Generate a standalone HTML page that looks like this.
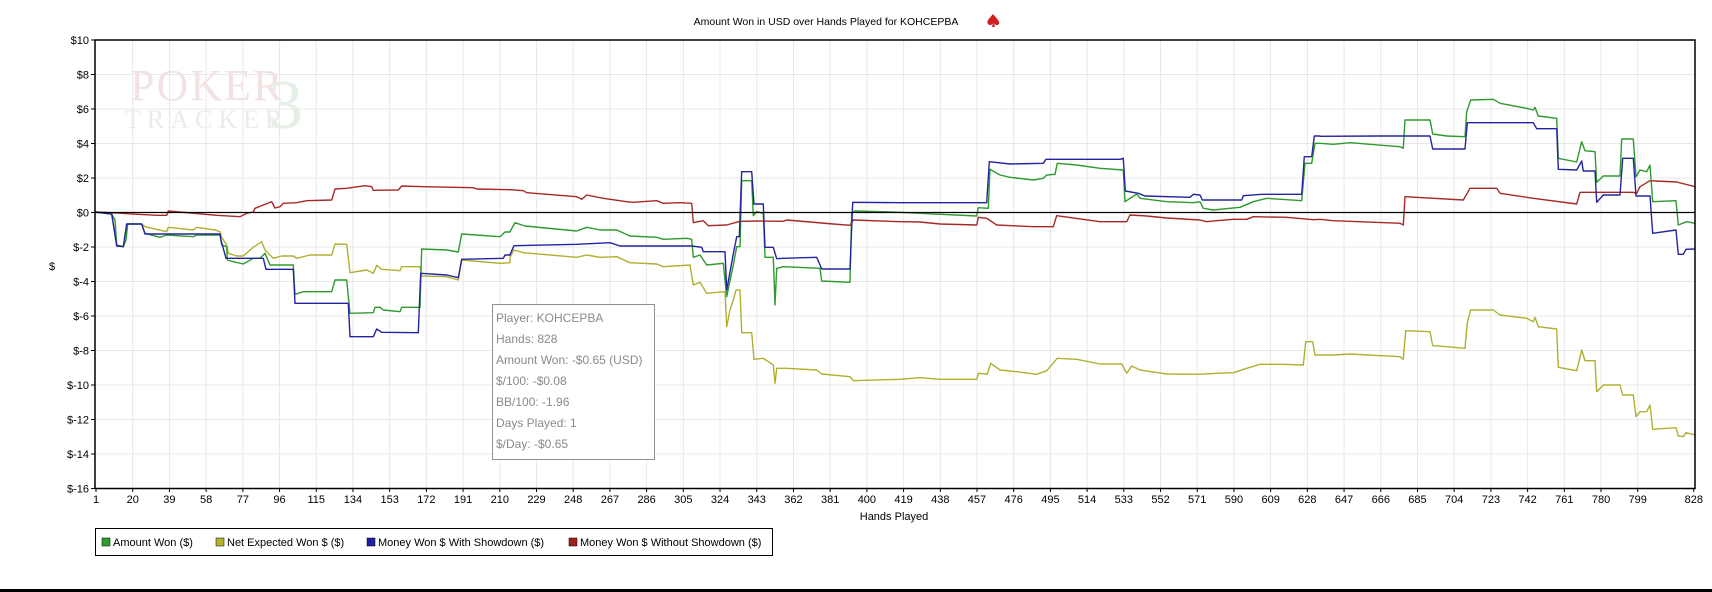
<!DOCTYPE html>
<html><head><meta charset="utf-8"><style>
html,body{margin:0;padding:0;background:#fff;}
svg{display:block;font-family:"Liberation Sans",sans-serif;}
</style></head><body>
<svg id="s" width="1712" height="592" viewBox="0 0 1712 592" xmlns="http://www.w3.org/2000/svg">
<rect width="1712" height="592" fill="#fff"/>
<g id="grid"></g>
<text x="130" y="100" font-family="Liberation Serif,serif" font-size="44" fill="#f2e2e2" letter-spacing="2">POKER</text>
<text x="125" y="128" font-family="Liberation Serif,serif" font-size="26" fill="#ebebeb" letter-spacing="6">TRACKER</text>
<text x="268" y="128" font-family="Liberation Serif,serif" font-size="70" fill="#e6efe6">3</text>
<g id="series" fill="none" stroke-width="1.4" stroke-linejoin="round"></g>
<line x1="95" y1="212.5" x2="1695" y2="212.5" stroke="#000" stroke-width="1.3"/>
<rect x="95" y="40" width="1600" height="448.5" fill="none" stroke="#000" stroke-width="1.5"/>
<g id="ticks" font-size="11" fill="#000"></g>
<text x="826" y="25" font-size="10.5" text-anchor="middle">Amount Won in USD over Hands Played for KOHCEPBA</text>
<path d="M993 14 C989 19 986 21 988 24 C990 26 992 25 993 23 L992 27 L995 27 L994 23 C995 25 997 26 999 24 C1000 21 997 19 993 14Z" fill="#d02020"/>
<text x="52" y="270" font-size="11" text-anchor="middle">$</text>
<text x="894" y="520" font-size="11" text-anchor="middle">Hands Played</text>
<rect x="492.5" y="304.5" width="162" height="155" fill="#fff" stroke="#909090"/>
<g font-size="12" fill="#8a8a8a">
<text x="496" y="322">Player: KOHCEPBA</text>
<text x="496" y="343">Hands: 828</text>
<text x="496" y="364">Amount Won: -$0.65 (USD)</text>
<text x="496" y="385">$/100: -$0.08</text>
<text x="496" y="406">BB/100: -1.96</text>
<text x="496" y="427">Days Played: 1</text>
<text x="496" y="448">$/Day: -$0.65</text>
</g>
<rect x="95.5" y="528.5" width="677" height="27" fill="#fff" stroke="#000"/>
<g font-size="11">
<rect x="102" y="538" width="8" height="8" fill="#2e9e2e" stroke="#000" stroke-width=".5"/><text x="113" y="546">Amount Won ($)</text>
<rect x="216" y="538" width="8" height="8" fill="#b5b52a" stroke="#000" stroke-width=".5"/><text x="227" y="546">Net Expected Won $ ($)</text>
<rect x="367" y="538" width="8" height="8" fill="#2020a0" stroke="#000" stroke-width=".5"/><text x="378" y="546">Money Won $ With Showdown ($)</text>
<rect x="569" y="538" width="8" height="8" fill="#a02020" stroke="#000" stroke-width=".5"/><text x="580" y="546">Money Won $ Without Showdown ($)</text>
</g>
<rect x="0" y="589" width="1712" height="3" fill="#000"/>
</svg>
<script>
var NS="http://www.w3.org/2000/svg";
function el(t,a,p,txt){var e=document.createElementNS(NS,t);for(var k in a)e.setAttribute(k,a[k]);if(txt!==undefined)e.textContent=txt;document.getElementById(p).appendChild(e);return e;}
for(var v=10;v>=-16;v-=2){var y=212.5-v*17.25;
 if(v!==10&&v!==-16) el("line",{x1:95,x2:1695,y1:y,y2:y,stroke:"#e8e8e8"},"grid");
 el("line",{x1:91,x2:95,y1:y,y2:y,stroke:"#000"},"ticks");
 el("text",{x:89,y:y+4,"text-anchor":"end"},"ticks",(v<0?"$-"+(-v):"$"+v));}
var hs=[];for(var h=1;h<=799;h+=19)hs.push(h);hs.push(828);
hs.forEach(function(h){var x=96+(h-1)*1.932;
 if(h!==1&&h!==828) el("line",{x1:x,x2:x,y1:40,y2:488,stroke:"#e8e8e8"},"grid");
 el("line",{x1:x,x2:x,y1:488,y2:492,stroke:"#000"},"ticks");
 el("text",{x:x,y:503,"text-anchor":"middle"},"ticks",String(h));});
var S={
red:[[90,150,[[15,186],[60,188],[200,196],[230,196],[235,183],[380,196],[450,200],[470,190],[490,186],[495,175],[520,165],[545,155],[555,174],[570,170],[580,160],[620,158],[650,152],[725,150],[735,117],[770,115],[825,107],[845,110],[850,121],[925,120],[935,108],[1000,110],[1150,113],[1160,117],[1260,119]]],
[500,150,[[30,119],[70,122],[80,128],[230,140],[245,148],[260,135],[310,145],[380,155],[400,157],[470,152],[490,160],[540,158],[575,160],[580,218],[610,212],[625,227],[680,225],[720,214],[780,213],[850,214],[860,210],[1000,222],[1050,226],[1060,210],[1200,215]]],
[900,80,[[60,426],[120,432],[230,435],[235,412],[260,415],[290,435],[400,440],[460,440],[470,407],[600,425],[680,425],[690,405],[740,408],[800,414],[900,420],[920,425],[950,422],[1000,418],[1040,418],[1060,410],[1160,412],[1240,419]]],
[1300,80,[[60,418],[100,422],[300,430],[310,435],[315,350],[490,360],[510,325],[590,325],[600,340],[700,355],[830,372],[840,337],[1000,337],[1010,340],[1020,320],[1050,302],[1130,306],[1185,320]]]],
yellow:[[90,150,[[15,186],[65,192],[80,285],[100,290],[110,222],[155,222],[165,230],[230,245],[235,232],[310,240],[320,232],[375,240],[390,245],[395,262],[410,285],[415,310],[440,318],[460,318],[490,292],[515,275],[525,300],[550,325],[575,318],[610,318],[620,325],[660,315],[725,315],[735,282],[770,283],[780,368],[830,360],[850,370],[860,346],[875,358],[930,362],[935,350],[990,350],[995,378],[1070,380],[1105,390],[1115,330],[1230,340],[1260,338]]],
[500,150,[[30,322],[42,300],[70,308],[230,322],[260,315],[300,322],[350,320],[390,338],[470,342],[490,350],[570,345],[580,405],[600,397],[620,430],[675,425],[680,530],[690,480],[700,450],[708,420],[720,420],[725,548],[755,548],[762,628],[790,625],[820,645],[825,700],[830,655],[860,655],[950,660],[965,672],[1050,680],[1060,692],[1200,688]]],
[900,80,[[60,893],[120,898],[230,898],[235,880],[262,882],[272,850],[300,870],[350,875],[410,883],[440,872],[472,835],[530,838],[600,852],[665,852],[680,880],[695,858],[720,870],[800,882],[900,883],[950,880],[1000,878],[1040,865],[1080,853],[1150,853],[1210,855],[1217,785],[1238,785],[1245,825],[1260,825]]],
[1300,80,[[62,825],[100,825],[150,822],[300,830],[310,838],[317,752],[390,755],[398,797],[440,800],[495,805],[502,728],[512,690],[580,690],[600,705],[680,715],[700,725],[705,712],[715,740],[770,747],[775,862],[830,872],[845,810],[855,842],[885,842],[890,935],[910,915],[960,915],[968,945],[1000,945],[1008,1010],[1020,995],[1040,995],[1050,975],[1058,1048],[1128,1043],[1135,1068],[1150,1070],[1158,1058],[1185,1065]]]],
green:[[90,150,[[15,186],[65,192],[75,210],[80,285],[100,290],[108,270],[113,222],[155,222],[165,250],[210,262],[230,255],[310,260],[320,255],[390,255],[395,285],[410,290],[412,330],[430,335],[460,342],[490,325],[510,325],[525,310],[540,345],[610,345],[615,433],[640,425],[725,425],[735,390],[770,390],[780,490],[850,488],[855,472],[870,472],[880,480],[930,485],[935,472],[990,472],[995,297],[1070,300],[1105,306],[1115,252],[1230,260],[1245,246],[1260,246]]],
[500,150,[[30,245],[45,218],[75,228],[230,243],[260,232],[300,240],[350,240],[390,258],[470,262],[490,268],[560,265],[575,268],[580,322],[600,315],[620,345],[670,340],[680,440],[700,345],[710,290],[720,290],[725,92],[755,92],[760,197],[770,185],[790,190],[795,322],[820,322],[825,465],[830,355],[850,350],[960,355],[965,393],[1050,397],[1055,190],[1065,183],[1200,187]]],
[900,80,[[60,400],[230,408],[235,383],[265,385],[270,268],[300,285],[330,292],[400,300],[430,295],[440,285],[465,283],[472,250],[530,255],[600,265],[670,270],[675,365],[710,342],[720,355],[800,365],[880,368],[900,365],[910,385],[940,390],[1020,382],[1060,365],[1100,355],[1205,362],[1215,250],[1235,250],[1245,190],[1260,190]]],
[1300,80,[[60,190],[100,193],[150,188],[300,200],[310,205],[315,120],[390,120],[398,162],[440,168],[495,170],[500,95],[512,60],[580,58],[600,70],[680,85],[700,90],[705,82],[715,108],[770,115],[775,235],[830,246],[845,185],[855,212],[885,215],[890,307],[910,288],[960,288],[965,177],[1000,177],[1008,290],[1020,270],[1040,275],[1050,255],[1058,365],[1128,362],[1135,435],[1160,425],[1185,430]]]],
blue:[[90,150,[[15,186],[65,192],[80,288],[100,290],[110,222],[155,222],[165,252],[390,252],[393,270],[408,325],[520,325],[528,358],[610,358],[615,460],[775,460],[780,560],[850,560],[860,537],[875,547],[985,548],[992,370],[1070,375],[1105,383],[1115,328],[1240,325],[1245,315],[1260,315]]],
[500,150,[[30,314],[42,287],[230,283],[330,278],[360,288],[575,288],[605,292],[610,305],[675,305],[680,420],[700,312],[710,260],[718,260],[725,65],[755,65],[762,162],[790,162],[795,292],[820,292],[830,326],[850,325],[950,322],[965,357],[1050,357],[1058,157],[1200,158]]],
[900,80,[[60,368],[260,368],[268,245],[330,252],[430,250],[438,238],[660,238],[670,235],[676,333],[715,340],[735,348],[870,352],[880,343],[900,345],[907,360],[1025,360],[1030,347],[1085,343],[1205,343],[1213,230],[1235,230],[1243,168],[1260,168]]],
[1300,80,[[60,169],[240,168],[390,168],[398,207],[495,207],[502,128],[700,128],[710,146],[770,146],[775,268],[830,270],[845,243],[850,273],[885,273],[890,367],[910,345],[960,345],[968,235],[1000,235],[1008,348],[1050,348],[1058,460],[1128,450],[1135,523],[1150,523],[1158,508],[1185,507]]]]
};
var col={red:"#a82828",yellow:"#b0b030",green:"#2e9a2e",blue:"#2424a0"};
["red","yellow","green","blue"].forEach(function(k){
 var pts=[];S[k].forEach(function(seg){var ox=seg[0],oy=seg[1];seg[2].forEach(function(p){pts.push((ox+p[0]/3).toFixed(1)+","+(oy+p[1]/3).toFixed(1));});});
 el("polyline",{points:pts.join(" "),stroke:col[k]},"series");});
</script>
</body></html>
